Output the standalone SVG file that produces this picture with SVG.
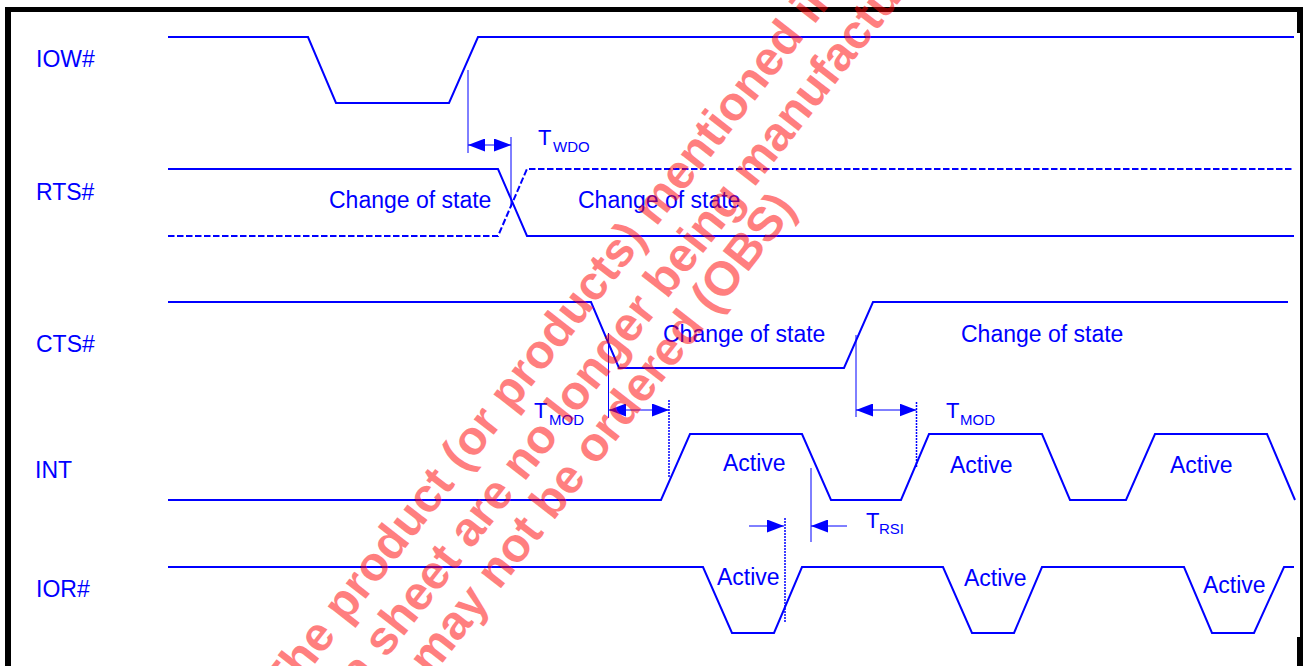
<svg xmlns="http://www.w3.org/2000/svg" width="1304" height="666" viewBox="0 0 1304 666">
<style>
.lbl{font-family:"Liberation Sans",Arial,sans-serif;font-size:23px;fill:#0000FF}
.t{font-family:"Liberation Sans",Arial,sans-serif;font-size:22px;fill:#0000FF}
.sub{font-family:"Liberation Sans",Arial,sans-serif;font-size:15px;fill:#0000FF}
.wave{fill:none;stroke:#0000FF;stroke-width:2;stroke-linejoin:miter}
.dash{stroke-dasharray:6.5 2.5}
.thin{fill:none;stroke:#0000FF;stroke-width:1}
.dot{fill:none;stroke:#0000FF;stroke-width:1.5;stroke-dasharray:2 1}
.arr{fill:none;stroke:#0000FF;stroke-width:1;marker-end:url(#ah)}
.arr2{fill:none;stroke:#0000FF;stroke-width:1;marker-start:url(#ah);marker-end:url(#ah)}
.wm{font-family:"Liberation Sans",Arial,sans-serif;font-size:48px;font-weight:bold;fill:#FF0000;fill-opacity:0.5}
</style>
<defs>
<marker id="ah" viewBox="0 0 17 13" refX="17" refY="6.5" markerWidth="17" markerHeight="13" markerUnits="userSpaceOnUse" orient="auto-start-reverse">
<path d="M0,0 L17,6.5 L0,13 z" fill="#0000FF"/>
</marker>
</defs>
<rect width="1304" height="666" fill="#FFFFFF"/>
<g id="frame" fill="#000000">
<rect x="5" y="7" width="6" height="659"/>
<rect x="5" y="7" width="1298" height="5"/>
<rect x="1297" y="7" width="6" height="26"/>
<rect x="1300" y="7" width="3" height="659"/>
<rect x="1297" y="637" width="6" height="29"/>
</g>
<g id="iow">
<text class="lbl" x="36" y="67">IOW#</text>
<path class="wave" d="M168,37 H308 L336,103 H449 L478,37 H1294"/>
</g>
<g id="rts">
<text class="lbl" x="36" y="200">RTS#</text>
<path class="wave" d="M168,169 H498 L527,236 H1294"/>
<path class="wave dash" d="M168,236 H498 L527,169 H1294"/>
<text class="lbl" x="329" y="208">Change of state</text>
<text class="lbl" x="578" y="208">Change of state</text>
</g>
<g id="cts">
<text class="lbl" x="36" y="352">CTS#</text>
<path class="wave" d="M168,302 H591 L619,368 H844 L873,302 H1288"/>
<text class="lbl" x="663" y="342">Change of state</text>
<text class="lbl" x="961" y="342">Change of state</text>
</g>
<g id="int">
<text class="lbl" x="35" y="478">INT</text>
<path class="wave" d="M168,500 H661 L690,434 H802 L831,500 H901 L929,434 H1042 L1070,500 H1126 L1155,434 H1267 L1295,500"/>
<text class="lbl" x="723" y="471">Active</text>
<text class="lbl" x="950" y="473">Active</text>
<text class="lbl" x="1170" y="473">Active</text>
</g>
<g id="ior">
<text class="lbl" x="36" y="597">IOR#</text>
<path class="wave" d="M168,567 H703 L732,633 H774 L802,567 H943 L972,633 H1014 L1042,567 H1184 L1212,633 H1254 L1284,567 H1294"/>
<text class="lbl" x="717" y="585">Active</text>
<text class="lbl" x="964" y="586">Active</text>
<text class="lbl" x="1203" y="593">Active</text>
</g>
<g id="connectors">
<path class="thin" d="M468,70 V153"/>
<path class="thin" d="M511,137 V207"/>
<path class="arr2" d="M468,145 H511"/>
<path class="thin" d="M608.5,333 V418"/>
<path class="dot" d="M669,400 V477"/>
<path class="arr2" d="M609,410 H669"/>
<path class="thin" d="M856,335 V417"/>
<path class="dot" d="M916.5,402 V467"/>
<path class="arr2" d="M856,410 H916.5"/>
<path class="dot" d="M785,518 V623"/>
<path class="thin" d="M811,468 V542"/>
<path class="arr" d="M749,526 H784"/>
<path class="arr" d="M847,526 H811"/>
</g>
<g id="timing-labels">
<text class="t" x="538" y="145">T</text><text class="sub" x="553" y="152">WDO</text>
<text class="t" x="534" y="418">T</text><text class="sub" x="549" y="425">MOD</text>
<text class="t" x="946" y="418">T</text><text class="sub" x="960" y="425">MOD</text>
<text class="t" x="866" y="528">T</text><text class="sub" x="879" y="534">RSI</text>
</g>
<g id="watermark" transform="rotate(-52)">
<text class="wm" x="-378" y="657">The product (or products) mentioned in</text>
<text class="wm" x="-394" y="710">data sheet are no longer being manufactured</text>
<text class="wm" x="-268" y="757">may not be ordered (OBS)</text>
</g>
</svg>
